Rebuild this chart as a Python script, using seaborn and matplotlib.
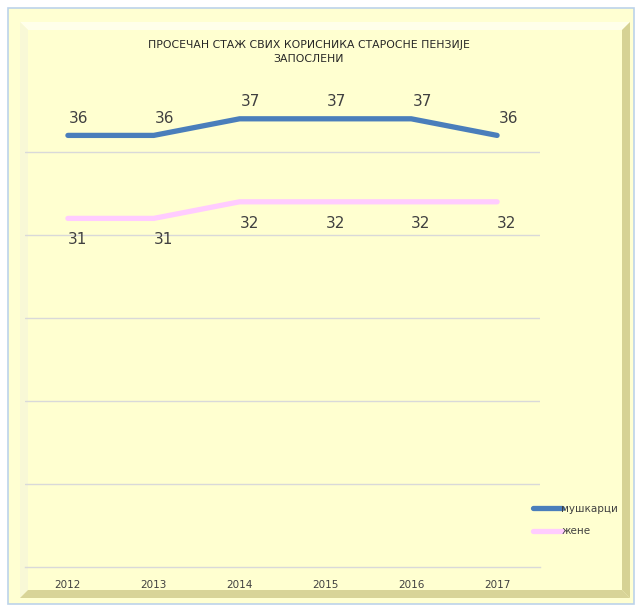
import matplotlib
matplotlib.use("Agg")
import matplotlib.pyplot as plt
import matplotlib.patches as mpatches
import pandas as pd
import seaborn as sns

years = [2012, 2013, 2014, 2015, 2016, 2017]
men = [36, 36, 37, 37, 37, 36]
women = [31, 31, 32, 32, 32, 32]
series_names = ["мушкарци", "жене"]
title = "ПРОСЕЧАН СТАЖ СВИХ КОРИСНИКА СТАРОСНЕ ПЕНЗИЈЕ\nЗАПОСЛЕНИ"

df = pd.DataFrame({
    "year": years * 2,
    "value": men + women,
    "series": [series_names[0]] * len(years) + [series_names[1]] * len(years),
})

sns.set_style("white")
plt.rcParams["font.family"] = ["DejaVu Sans"]

W, H = 639, 609
fig = plt.figure(figsize=(W / 100, H / 100), dpi=100)
fig.patch.set_facecolor("white")


def fx(x):
    return x / W


def fy(y):
    return 1 - y / H


# outer frame
fig.patches.append(mpatches.Rectangle((fx(8), fy(604)), fx(626), 596 / H,
                                      transform=fig.transFigure, facecolor="#FFFFD2",
                                      edgecolor="#BCD3EA", lw=1.2, zorder=-2))
# bevel of inner panel
o = (20, 22, 630, 598)
i = (28, 30, 622, 590)
bevels = [
    ([(o[0], o[1]), (o[2], o[1]), (i[2], i[1]), (i[0], i[1])], "#FFFFEA"),
    ([(o[0], o[1]), (i[0], i[1]), (i[0], i[3]), (o[0], o[3])], "#F8F8D6"),
    ([(o[2], o[1]), (o[2], o[3]), (i[2], i[3]), (i[2], i[1])], "#D6D294"),
    ([(o[0], o[3]), (i[0], i[3]), (i[2], i[3]), (o[2], o[3])], "#D8D498"),
]
for pts, col in bevels:
    fig.patches.append(mpatches.Polygon([(fx(a), fy(b)) for a, b in pts], closed=True,
                                        transform=fig.transFigure, facecolor=col,
                                        edgecolor="none", zorder=-1))
fig.patches.append(mpatches.Rectangle((fx(i[0]), fy(i[3])), fx(i[2] - i[0]), (i[3] - i[1]) / H,
                                      transform=fig.transFigure, facecolor="#FFFFD0",
                                      edgecolor="none", zorder=-1))

ax = fig.add_axes([fx(25), fy(567), fx(540 - 25), (567 - 69) / H])
ax.set_zorder(2)
ax.set_facecolor("none")

palette = {series_names[0]: "#4A7EBB", series_names[1]: "#FFCCFF"}
sns.lineplot(data=df, x="year", y="value", hue="series", palette=palette,
             linewidth=3.8, ax=ax, legend=False, solid_capstyle="round")

ax.set_xlim(2011.5, 2017.5)
ax.set_ylim(10, 40)
ax.set_yticks([15, 20, 25, 30, 35])
ax.yaxis.grid(True, color="#D9D9D9", lw=1)
ax.set_axisbelow(True)
ax.set_yticklabels([])
ax.tick_params(axis="y", length=0)
ax.set_xticks(years)
ax.set_xticklabels([str(y) for y in years], fontsize=7.5, color="#404040")
ax.tick_params(axis="x", length=0, pad=9)
ax.set_xlabel("")
ax.set_ylabel("")
for s in ["top", "left", "right"]:
    ax.spines[s].set_visible(False)
ax.spines["bottom"].set_color("#D9D9D9")
ax.spines["bottom"].set_linewidth(1)

for x, v in zip(years, men):
    ax.annotate(str(v), (x, v), xytext=(8, 7), textcoords="offset points",
                ha="center", va="bottom", fontsize=11, color="#404040")
for x, v in zip(years, women):
    ax.annotate(str(v), (x, v), xytext=(7, -10), textcoords="offset points",
                ha="center", va="top", fontsize=11, color="#404040")

fig.text(fx(309), fy(52), title, ha="center", va="center", fontsize=7.8,
         color="#262626", linespacing=1.5, zorder=3)

# legend
handles = [plt.Line2D([0], [0], color=palette[n], lw=3.8, solid_capstyle="round") for n in series_names]
leg = fig.legend(handles, series_names, loc="center left", bbox_to_anchor=(fx(524), fy(520)),
                 frameon=False, fontsize=7.5, handlelength=2.7, handletextpad=0.0,
                 labelspacing=1.2, labelcolor="#404040")
leg.set_zorder(3)

fig.savefig("out.png", dpi=100)
